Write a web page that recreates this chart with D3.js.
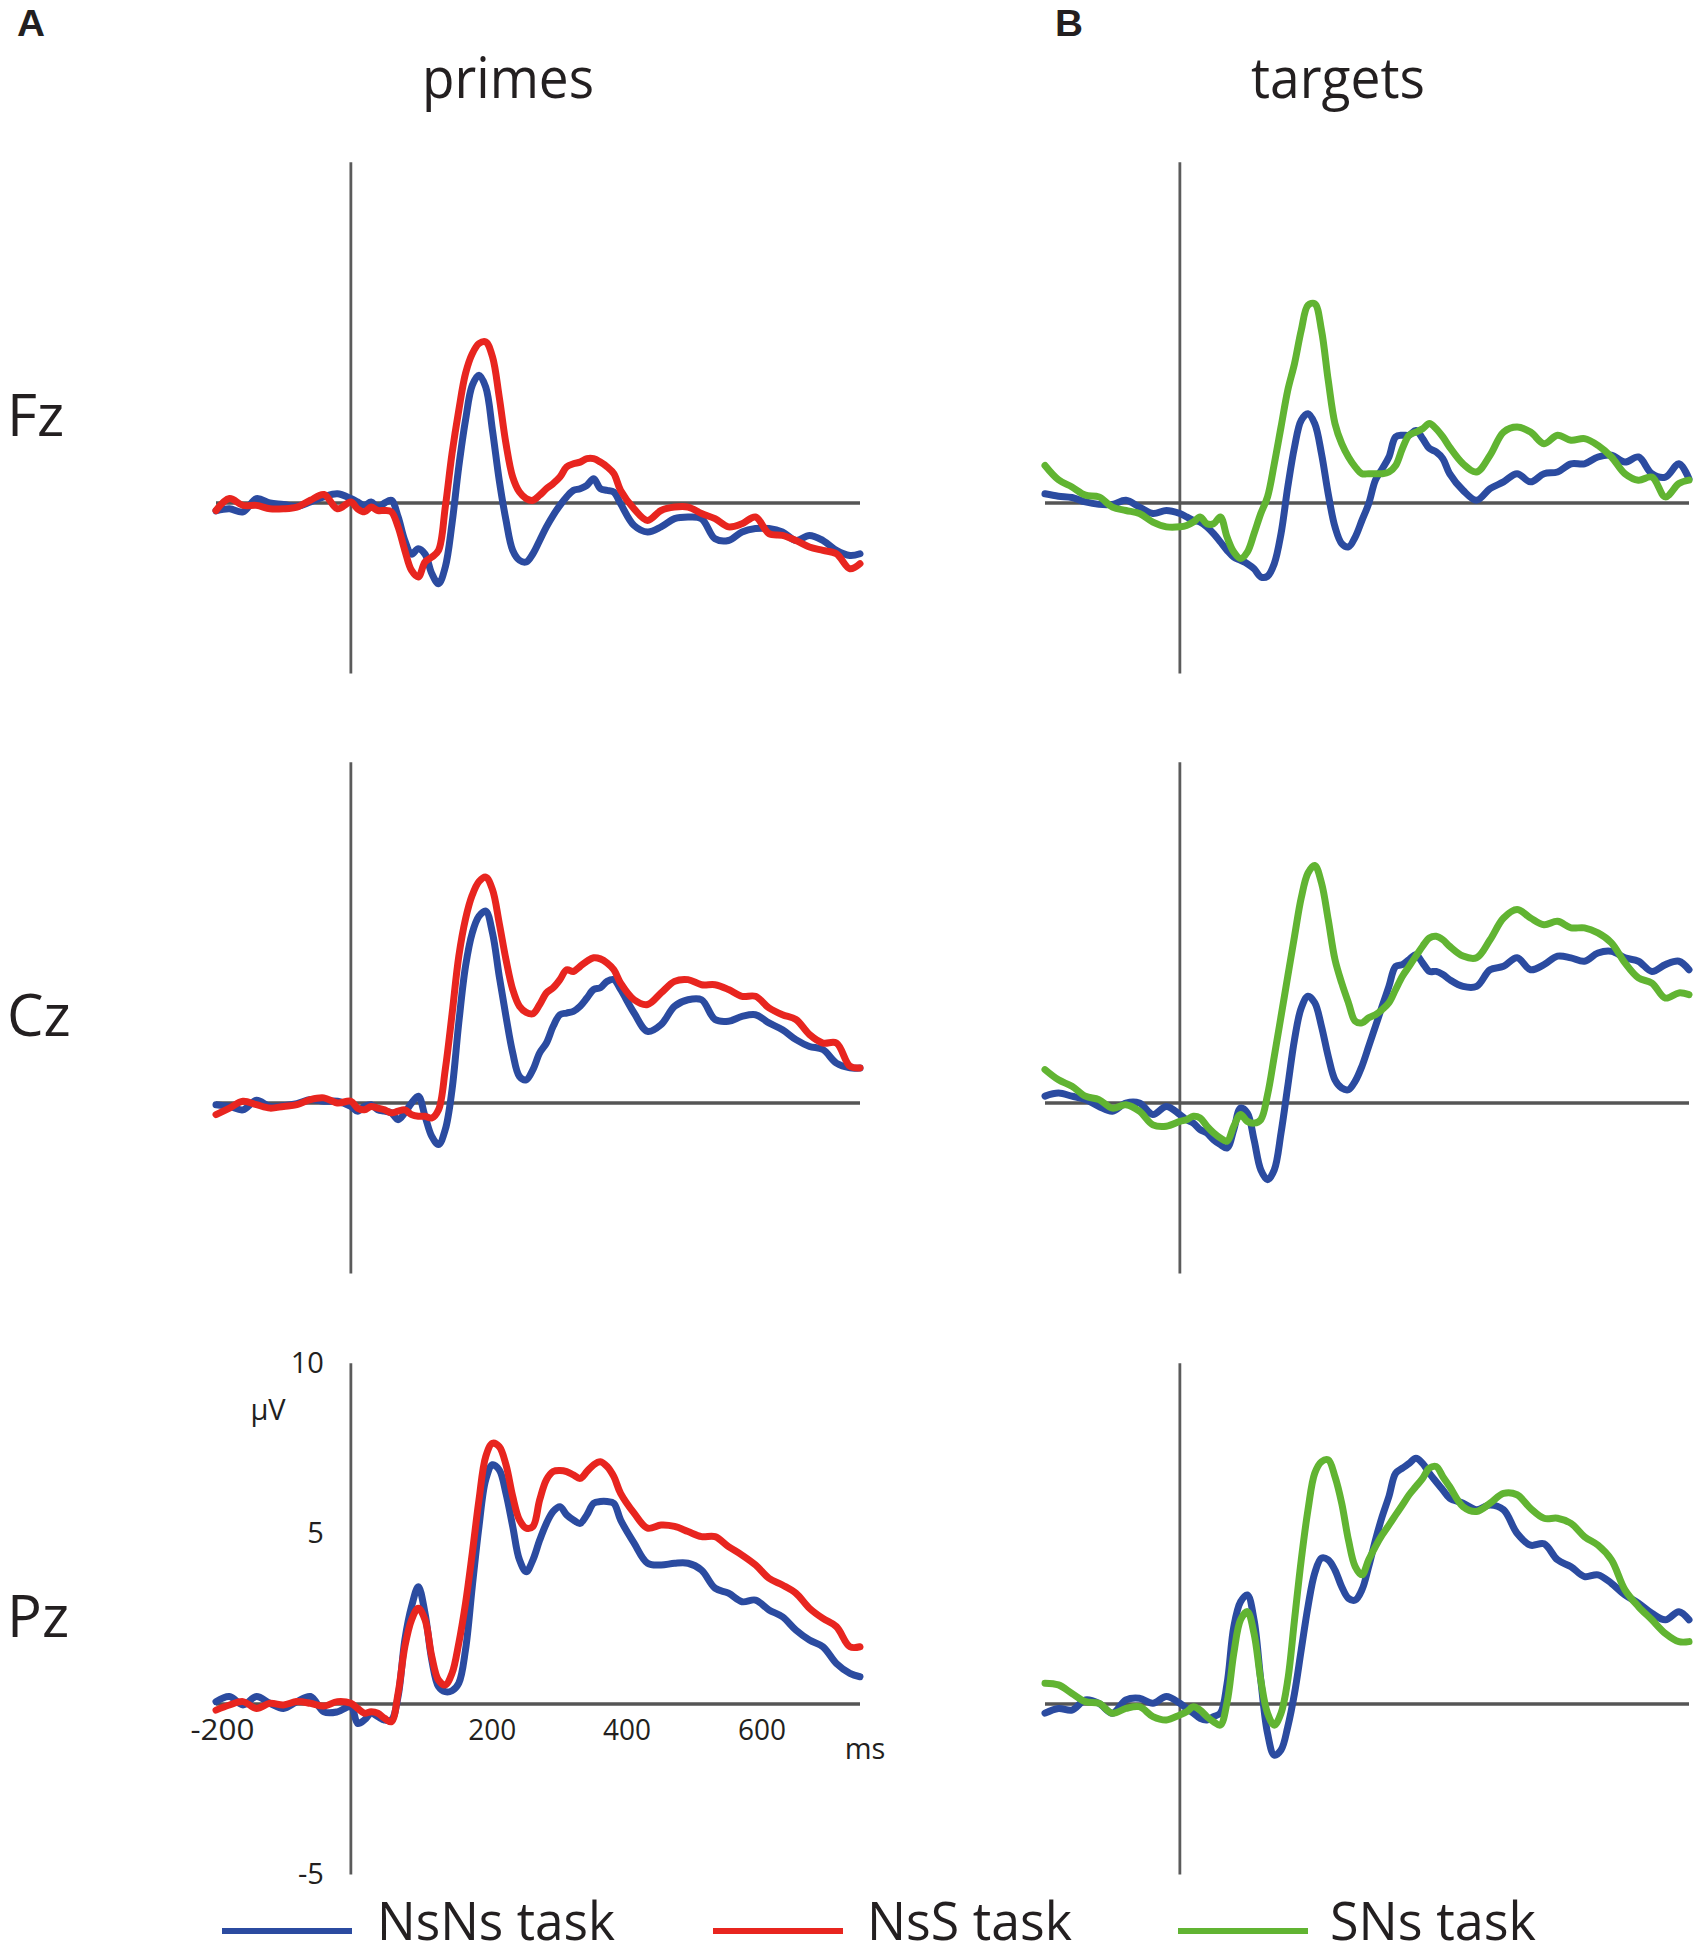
<!DOCTYPE html>
<html>
<head>
<meta charset="utf-8">
<script src="https://cdn.jsdelivr.net/npm/d3@7"></script>
<style>
  body { margin: 0; background: #fff; }
  text { font-family: "Open Sans", "Noto Sans", sans-serif; fill: #231f20; }
</style>
</head>
<body>
<svg id="chart"></svg>
<script>
// time points (ms) shared by every waveform
var times = [-200,-180,-160,-140,-120,-100,-80,-60,-40,-20,0,10,20,30,40,50,60,70,80,90,100,110,120,130,140,150,160,170,180,190,200,210,220,230,240,250,260,270,280,290,300,310,320,330,340,350,360,370,380,390,400,420,440,460,480,500,520,540,560,580,600,620,640,660,680,700,720,740,755];

// amplitudes in microvolts
var fzPrimeNsNs = [-0.23,-0.17,-0.26,0.13,0,-0.04,-0.1,0.03,0.18,0.27,0.13,0.03,-0.07,0.03,-0.12,0,0.08,-0.4,-1.1,-1.5,-1.34,-1.5,-2.07,-2.37,-1.88,-0.6,1.06,2.43,3.45,3.75,3.4,2.13,0.67,-0.5,-1.39,-1.68,-1.73,-1.49,-1.1,-0.7,-0.36,-0.07,0.18,0.37,0.42,0.52,0.71,0.42,0.37,0.32,-0.02,-0.66,-0.85,-0.7,-0.46,-0.41,-0.46,-1.05,-1.1,-0.85,-0.75,-0.75,-0.85,-1.1,-0.95,-1.1,-1.39,-1.54,-1.49];
var fzPrimeNsS = [-0.22,0.13,-0.07,-0.07,-0.17,-0.17,-0.12,0.08,0.25,-0.17,0.03,-0.17,-0.26,-0.12,-0.22,-0.22,-0.26,-0.7,-1.39,-1.98,-2.17,-1.73,-1.59,-1.39,-0.12,1.45,2.72,3.8,4.38,4.68,4.73,4.29,3.11,1.74,0.76,0.32,0.13,0.08,0.23,0.42,0.57,0.76,1.06,1.15,1.2,1.3,1.3,1.2,1.06,0.86,0.37,-0.17,-0.51,-0.22,-0.12,-0.12,-0.31,-0.46,-0.7,-0.61,-0.41,-0.9,-0.95,-1.1,-1.29,-1.39,-1.49,-1.93,-1.78];
var fzTargetNsNs = [0.27,0.2,0.16,0.03,-0.04,-0.04,0.08,-0.12,-0.31,-0.22,-0.31,-0.41,-0.51,-0.56,-0.7,-0.9,-1.14,-1.39,-1.59,-1.68,-1.78,-1.93,-2.17,-2.15,-1.78,-0.9,0.47,1.64,2.43,2.62,2.33,1.45,0.27,-0.7,-1.19,-1.29,-1.0,-0.51,-0.02,0.67,1.0,1.35,1.94,1.99,1.99,2.13,1.89,1.6,1.5,1.3,0.86,0.37,0.08,0.42,0.62,0.86,0.62,0.86,0.91,1.15,1.15,1.35,1.4,1.2,1.35,0.86,0.76,1.15,0.71];
var fzTargetSNs = [1.1,0.68,0.47,0.23,0.18,-0.12,-0.22,-0.31,-0.56,-0.7,-0.7,-0.66,-0.56,-0.41,-0.61,-0.61,-0.41,-1.0,-1.44,-1.63,-1.44,-0.9,-0.31,0.18,1.15,2.23,3.31,4.09,5.07,5.8,5.85,5.07,3.6,2.33,1.74,1.35,1.06,0.86,0.86,0.86,0.86,0.91,1.1,1.6,1.99,2.08,2.18,2.33,2.18,1.94,1.64,1.15,0.91,1.4,2.08,2.23,2.08,1.74,1.99,1.84,1.89,1.69,1.35,0.86,0.67,0.76,0.18,0.57,0.67];

var czPrimeNsNs = [-0.05,-0.1,-0.2,0.08,-0.1,-0.08,-0.02,0.1,0.05,0.05,-0.1,-0.24,-0.1,-0.05,-0.2,-0.24,-0.29,-0.49,-0.29,0,0.2,-0.39,-0.98,-1.22,-0.78,0.39,2.35,4.01,4.99,5.48,5.63,4.99,3.72,2.54,1.47,0.78,0.68,0.98,1.47,1.76,2.25,2.59,2.64,2.69,2.84,3.08,3.33,3.38,3.57,3.62,3.33,2.64,2.1,2.3,2.84,3.03,3.03,2.45,2.4,2.54,2.59,2.35,2.15,1.86,1.66,1.57,1.17,1.03,1.03];
var czPrimeNsS = [-0.34,-0.15,0.05,-0.05,-0.15,-0.1,-0.05,0.1,0.15,0,0.05,-0.15,-0.2,-0.1,-0.15,-0.2,-0.29,-0.24,-0.2,-0.34,-0.39,-0.39,-0.44,-0.2,0.98,2.6,4.3,5.4,6.1,6.5,6.63,6.26,5.28,4.21,3.33,2.84,2.66,2.62,2.89,3.23,3.38,3.62,3.91,3.86,4.01,4.16,4.26,4.23,4.11,3.91,3.52,3.03,2.89,3.23,3.57,3.62,3.47,3.47,3.33,3.13,3.13,2.79,2.59,2.45,2.01,1.76,1.76,1.08,1.03];
var czTargetNsNs = [0.2,0.29,0.2,0.1,-0.1,-0.24,0,0,-0.34,-0.1,-0.34,-0.49,-0.59,-0.78,-0.88,-1.08,-1.22,-1.32,-0.78,-0.15,-0.29,-1.08,-1.96,-2.25,-1.96,-0.88,0.49,1.86,2.79,3.13,2.94,2.25,1.37,0.68,0.44,0.39,0.64,1.08,1.66,2.25,2.84,3.42,4.01,4.06,4.21,4.35,4.11,3.86,3.86,3.77,3.62,3.42,3.42,3.91,4.01,4.26,3.91,4.06,4.31,4.26,4.16,4.4,4.45,4.26,4.16,3.86,4.06,4.16,3.91];
var czTargetSNs = [0.98,0.68,0.49,0.2,0.1,-0.15,-0.05,-0.24,-0.64,-0.68,-0.54,-0.49,-0.39,-0.44,-0.68,-0.88,-1.03,-1.12,-0.68,-0.34,-0.54,-0.59,-0.49,0.24,1.37,2.54,3.72,4.89,6.02,6.75,6.97,6.46,5.38,4.21,3.52,2.94,2.4,2.35,2.5,2.59,2.74,2.94,3.33,3.72,4.01,4.31,4.6,4.84,4.89,4.79,4.6,4.31,4.26,4.79,5.43,5.68,5.43,5.23,5.33,5.14,5.14,4.99,4.7,4.11,3.67,3.52,3.08,3.23,3.18];

var pzPrimeNsNs = [0.07,0.22,-0.03,0.22,0.02,-0.13,0.07,0.22,-0.23,-0.23,-0.08,-0.57,-0.47,-0.27,-0.37,-0.47,-0.47,0.22,1.88,2.86,3.44,2.66,1.29,0.51,0.36,0.39,0.61,1.59,3.44,5.21,6.58,7.02,6.87,6.18,5.21,4.23,3.88,4.23,4.81,5.3,5.65,5.79,5.55,5.4,5.3,5.55,5.89,5.94,5.94,5.89,5.4,4.72,4.13,4.08,4.13,4.13,3.93,3.4,3.25,3.0,3.05,2.76,2.56,2.17,1.88,1.68,1.19,0.9,0.8];
var pzPrimeNsS = [-0.18,-0.03,0.07,-0.13,0.02,-0.03,0.07,0.02,-0.06,0.07,0.02,-0.13,-0.27,-0.23,-0.27,-0.42,-0.52,0.31,1.68,2.47,2.81,2.47,1.39,0.7,0.56,0.9,1.78,2.95,4.42,5.99,7.26,7.65,7.55,7.02,6.09,5.4,5.16,5.21,5.99,6.58,6.82,6.85,6.82,6.72,6.62,6.82,7.02,7.11,6.97,6.67,6.18,5.6,5.16,5.25,5.21,5.06,4.91,4.91,4.62,4.37,4.08,3.69,3.49,3.25,2.81,2.51,2.27,1.68,1.68];
var pzTargetNsNs = [-0.27,-0.13,-0.18,0.12,0.02,-0.27,0.12,0.17,0.02,0.22,0.02,-0.13,-0.27,-0.42,-0.47,-0.37,-0.27,0.6,2.27,3.0,3.2,2.47,0.7,-0.86,-1.5,-1.35,-0.67,0.31,1.59,2.86,3.84,4.28,4.23,3.93,3.44,3.1,3.05,3.35,4.03,4.81,5.5,6.09,6.77,6.92,7.06,7.21,7.06,6.77,6.52,6.28,6.04,5.89,5.7,5.84,5.7,5.01,4.66,4.7,4.23,4.03,3.74,3.79,3.54,3.2,2.96,2.66,2.47,2.71,2.47];
var pzTargetSNs = [0.61,0.56,0.31,0.07,0.02,-0.27,-0.13,-0.08,-0.37,-0.47,-0.32,-0.23,-0.08,-0.18,-0.37,-0.52,-0.62,0.05,1.49,2.47,2.71,2.07,0.7,-0.27,-0.62,-0.27,0.7,2.47,4.23,5.7,6.77,7.11,7.16,6.67,5.89,4.81,4.03,3.79,4.23,4.62,4.96,5.25,5.55,5.84,6.14,6.38,6.62,6.92,6.97,6.67,6.38,5.79,5.65,5.89,6.18,6.14,5.74,5.45,5.45,5.3,4.91,4.66,4.23,3.35,2.86,2.47,2.07,1.83,1.83];

var electrodes = ["Fz", "Cz", "Pz"];
var columns = ["primes", "targets"];
var panelLetters = ["A", "B"];
var xTicks = [-200, 200, 400, 600];
var yTicks = [10, 5, -5];
var legendLabels = ["NsNs task", "NsS task", "SNs task"];
var legendColors = ["#2b4ba0", "#e8251f", "#61b432"];

// panels[row][col] = list of series, drawn in order
var panels = [
    [[{v: fzPrimeNsNs, c: 0}, {v: fzPrimeNsS, c: 1}], [{v: fzTargetNsNs, c: 0}, {v: fzTargetSNs, c: 2}]],
    [[{v: czPrimeNsNs, c: 0}, {v: czPrimeNsS, c: 1}], [{v: czTargetNsNs, c: 0}, {v: czTargetSNs, c: 2}]],
    [[{v: pzPrimeNsNs, c: 0}, {v: pzPrimeNsS, c: 1}], [{v: pzTargetNsNs, c: 0}, {v: pzTargetSNs, c: 2}]]
];

var width = 1698,
    height = 1955,
    colLeft = [216, 1045],
    plotW = 644,
    rowZero = [503, 1103, 1704],
    uv = 34.08;

var svg = d3.select("#chart").attr("width", width).attr("height", height);
svg.append("rect").attr("width", width).attr("height", height).attr("fill", "#fff");

// panel letters and column titles
svg.selectAll(".letter").data(panelLetters).enter().append("text")
    .attr("x", function(d, i){ return [17, 1055][i]; })
    .attr("y", 36)
    .attr("textLength", 28)
    .attr("lengthAdjust", "spacingAndGlyphs")
    .style("font-family", "'Liberation Sans', Arial, sans-serif")
    .style("font-weight", "bold")
    .style("font-size", "36px")
    .text(function(d){ return d; });

svg.selectAll(".title").data(columns).enter().append("text")
    .attr("x", function(d, i){ return [422, 1251][i]; })
    .attr("y", 98)
    .attr("textLength", function(d, i){ return [172, 174][i]; })
    .attr("lengthAdjust", "spacingAndGlyphs")
    .style("font-size", "56px")
    .text(function(d){ return d; });

svg.selectAll(".rowlabel").data(electrodes).enter().append("text")
    .attr("x", 7)
    .attr("y", function(d, i){ return rowZero[i] - 67; })
    .style("font-size", "58px")
    .text(function(d){ return d; });

electrodes.forEach(function(el, r) {
    var zero = rowZero[r],
        y = d3.scaleLinear().domain([-5, 10]).range([zero + 5 * uv, zero - 10 * uv]);

    columns.forEach(function(col, c) {
        var x = d3.scaleLinear().domain([-200, 755]).range([colLeft[c], colLeft[c] + plotW]),
            g = svg.append("g").attr("class", "panel");

        // vertical axis at stimulus onset
        g.append("line")
            .attr("x1", x(0)).attr("x2", x(0))
            .attr("y1", y(10)).attr("y2", y(-5))
            .attr("stroke", "#5b5b5b").attr("stroke-width", 2.8);
        // zero line
        g.append("line")
            .attr("x1", x(-200)).attr("x2", x(755))
            .attr("y1", y(0)).attr("y2", y(0))
            .attr("stroke", "#555").attr("stroke-width", 3.4);

        var line = d3.line()
            .x(function(d, i){ return x(times[i]); })
            .y(function(d){ return y(d); })
            .curve(d3.curveCatmullRom.alpha(0.5));

        panels[r][c].forEach(function(s) {
            g.append("path")
                .attr("d", line(s.v))
                .attr("fill", "none")
                .attr("stroke", legendColors[s.c])
                .attr("stroke-width", 7)
                .attr("stroke-linejoin", "round")
                .attr("stroke-linecap", "round");
        });

        // scale labels only on the bottom-left panel
        if (r === 2 && c === 0) {
            var xAxis = d3.axisBottom(x).tickValues(xTicks).tickSize(0).tickPadding(15)
                    .tickFormat(function(d){ return String(d); }),
                yAxis = d3.axisLeft(y).tickValues(yTicks).tickSize(0).tickPadding(27)
                    .tickFormat(function(d){ return String(d); });

            var xa = g.append("g").attr("transform", "translate(6," + zero + ")").call(xAxis);
            var ya = g.append("g").attr("transform", "translate(" + x(0) + ",0)").call(yAxis);
            [xa, ya].forEach(function(a) {
                a.select(".domain").remove();
                a.selectAll("text").style("font-size", "29px").style("font-family", "'Open Sans', sans-serif").attr("fill", "#231f20");
            });
            xa.selectAll("text").attr("textLength", function(d){ return String(d).length * 16; })
                .attr("lengthAdjust", "spacingAndGlyphs");

            g.append("text").attr("x", 268).attr("y", 1420).attr("text-anchor", "middle")
                .style("font-size", "29px").text("\u00b5V");
            g.append("text").attr("x", 865).attr("y", 1759).attr("text-anchor", "middle")
                .style("font-size", "29px").text("ms");
        }
    });
});

// legend
var legendX = [222, 713, 1178],
    legendTextX = [377, 867, 1330],
    legendTextW = [238, 205, 206];

var lg = svg.selectAll(".legend").data(legendLabels).enter().append("g").attr("class", "legend");
lg.append("line")
    .attr("x1", function(d, i){ return legendX[i]; })
    .attr("x2", function(d, i){ return legendX[i] + 130; })
    .attr("y1", 1931).attr("y2", 1931)
    .attr("stroke", function(d, i){ return legendColors[i]; })
    .attr("stroke-width", 6);
lg.append("text")
    .attr("x", function(d, i){ return legendTextX[i]; })
    .attr("y", 1940)
    .attr("textLength", function(d, i){ return legendTextW[i]; })
    .attr("lengthAdjust", "spacingAndGlyphs")
    .style("font-size", "53px")
    .text(function(d){ return d; });
</script>
</body>
</html>
